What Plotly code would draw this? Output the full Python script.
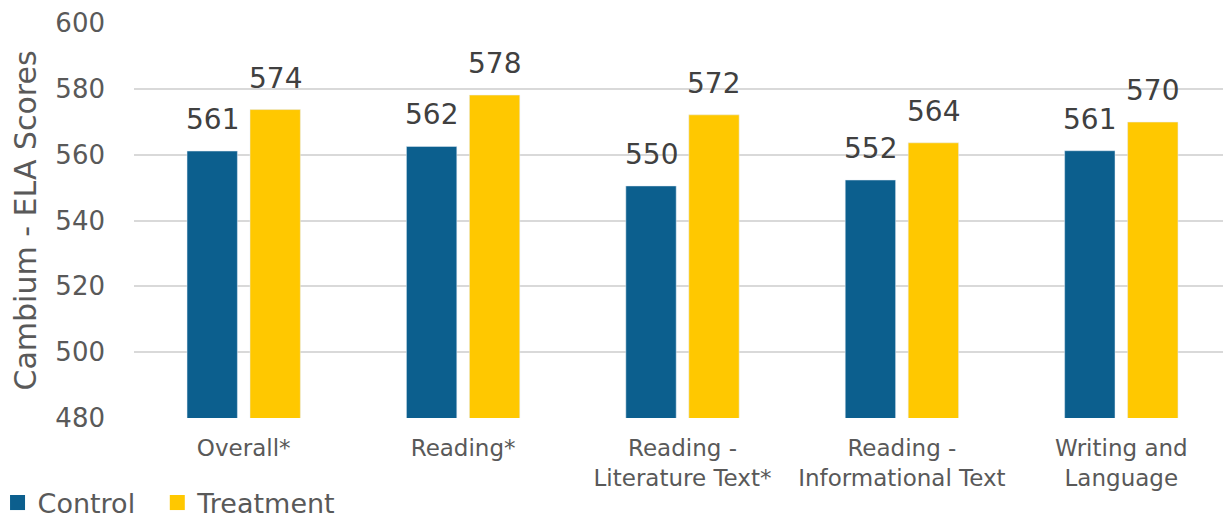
import plotly.graph_objects as go

categories = ["Overall*", "Reading*", "Reading -<br>Literature Text*",
              "Reading -<br>Informational Text", "Writing and<br>Language"]
control = [561.1, 562.5, 550.5, 552.3, 561.2]
treatment = [573.7, 578.1, 572.1, 563.6, 569.9]
control_labels = ["561", "562", "550", "552", "561"]
treatment_labels = ["574", "578", "572", "564", "570"]
series_names = ["Control", "Treatment"]
y_ticks = [480, 500, 520, 540, 560, 580, 600]

BLUE = "#0C5F8E"
YELLOW = "#FFC800"
FONT = "DejaVu Sans, sans-serif"
BARGAP = 0.426
GROUPGAP = 0.2

fig = go.Figure()
fig.add_trace(go.Bar(name=series_names[0], x=categories, y=control,
                     marker_color=BLUE, showlegend=False))
fig.add_trace(go.Bar(name=series_names[1], x=categories, y=treatment,
                     marker_color=YELLOW, showlegend=False))

# legend proxies with larger square markers
fig.add_trace(go.Scatter(name=series_names[0] + "\u00a0\u00a0", x=[None], y=[None],
                         mode="markers",
                         marker=dict(symbol="square", size=15, color=BLUE)))
fig.add_trace(go.Scatter(name=series_names[1], x=[None], y=[None], mode="markers",
                         marker=dict(symbol="square", size=15, color=YELLOW)))

slot = (1 - BARGAP) / 2
for i in range(len(categories)):
    for vals, labels, off in ((control, control_labels, -slot / 2),
                              (treatment, treatment_labels, slot / 2)):
        fig.add_annotation(x=i + off, y=vals[i], text=labels[i],
                           showarrow=False, yanchor="bottom", yshift=13,
                           font=dict(size=28, color="#404040", family=FONT))

# y-axis title
fig.add_annotation(text="Cambium - ELA Scores", textangle=-90,
                   xref="paper", yref="paper", x=0, y=0.5,
                   xanchor="center", yanchor="middle", xshift=-109,
                   showarrow=False,
                   font=dict(size=30, color="#595959", family=FONT))

fig.update_layout(
    width=1223, height=511,
    margin=dict(l=126, r=0, t=15, b=101, autoexpand=False),
    paper_bgcolor="white", plot_bgcolor="white",
    barmode="group", bargap=BARGAP, bargroupgap=GROUPGAP,
    font=dict(family=FONT, color="#595959"),
    legend=dict(orientation="h", xref="paper", yref="paper",
                x=-0.1244, y=-0.2152, xanchor="left", yanchor="middle",
                font=dict(size=27, color="#595959"),
                itemwidth=30, tracegroupgap=0),
    xaxis=dict(type="category", tickfont=dict(size=23, color="#595959"),
               showgrid=False, showline=False, ticks="",
               ticklabelstandoff=14, automargin=False,
               range=[-0.5, len(categories) - 0.5]),
    yaxis=dict(range=[480, 600], tickvals=y_ticks,
               tickfont=dict(size=26, color="#595959"),
               showgrid=True, gridcolor="#D9D9D9", gridwidth=1.5,
               zeroline=False, showline=False, ticks="",
               ticklabelstandoff=28, automargin=False),
)

fig.write_html("out.html")
